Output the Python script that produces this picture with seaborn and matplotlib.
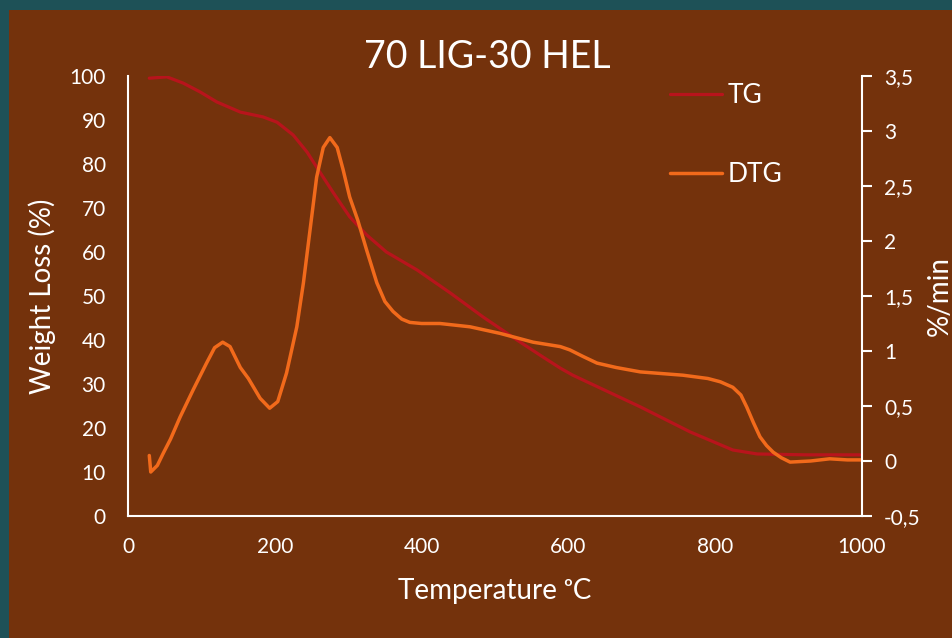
import matplotlib
matplotlib.use("Agg")
import matplotlib.pyplot as plt
import seaborn as sns
import pandas as pd
from matplotlib.patches import Rectangle
from matplotlib.lines import Line2D

# TG data (temperature °C, weight %)
tg_temp = [29, 53, 75, 98, 121, 153, 184, 203, 225, 244, 257, 271, 280, 302, 325, 352,
           394, 439, 484, 530, 561, 589, 606, 698, 766, 824, 857, 925, 997]
tg_weight = [99.5, 99.8, 98.4, 96.4, 94.1, 91.8, 90.7, 89.5, 86.6, 82.7, 79.3, 75.7, 73.4,
             68.0, 63.9, 60.0, 55.9, 50.7, 45.2, 40.0, 36.6, 33.6, 32.0, 24.8, 19.1, 15.0,
             14.1, 13.9, 13.9]

# DTG data (temperature °C, %/min)
dtg_temp = [29, 31, 40, 48, 58, 71, 89, 107, 118, 129, 139, 153, 164, 180, 193, 204, 216,
            230, 239, 248, 257, 266, 275, 285, 293, 302, 313, 325, 339, 350, 361, 373, 384,
            400, 425, 466, 507, 552, 589, 602, 620, 639, 665, 698, 756, 790, 807, 824, 835,
            843, 852, 861, 870, 879, 890, 902, 930, 956, 980, 999]
dtg_rate = [0.05, -0.1, -0.04, 0.07, 0.2, 0.40, 0.65, 0.89, 1.03, 1.08, 1.04, 0.85, 0.75,
            0.57, 0.48, 0.54, 0.80, 1.22, 1.62, 2.10, 2.58, 2.85, 2.94, 2.85, 2.65, 2.40,
            2.19, 1.92, 1.62, 1.45, 1.36, 1.29, 1.26, 1.25, 1.25, 1.22, 1.16, 1.08, 1.04,
            1.01, 0.95, 0.89, 0.85, 0.81, 0.78, 0.75, 0.72, 0.67, 0.60, 0.49, 0.35, 0.22,
            0.14, 0.08, 0.03, -0.01, 0.00, 0.02, 0.01, 0.01]

x_ticks = [0, 200, 400, 600, 800, 1000]
left_ticks = [0, 10, 20, 30, 40, 50, 60, 70, 80, 90, 100]
right_ticks = [-0.5, 0, 0.5, 1, 1.5, 2, 2.5, 3, 3.5]
right_labels = ["-0,5", "0", "0,5", "1", "1,5", "2", "2,5", "3", "3,5"]

BROWN = "#74320C"
TEAL = "#1E5157"
RED = "#B8141C"
ORANGE = "#F26A1B"
WHITE = "#FFFFFF"

sns.set_theme(style="white")
plt.rcParams["font.family"] = ["Lato", "DejaVu Sans"]

fig = plt.figure(figsize=(9.52, 6.38), dpi=100)
fig.patch.set_facecolor(TEAL)
fig.patches.append(Rectangle((9 / 952, 0), 1, (638 - 10) / 638, transform=fig.transFigure,
                             facecolor=BROWN, edgecolor="none", zorder=-10))

ax = fig.add_axes([128 / 952, (638 - 516) / 638, (862 - 128) / 952, (516 - 76) / 638])
ax.set_facecolor("none")
ax2 = ax.twinx()
ax2.set_facecolor("none")

tg_df = pd.DataFrame({"T": tg_temp, "W": tg_weight})
dtg_df = pd.DataFrame({"T": dtg_temp, "R": dtg_rate})

sns.lineplot(data=tg_df, x="T", y="W", ax=ax, color=RED, linewidth=2.3, legend=False,
             solid_joinstyle="round", solid_capstyle="round")
sns.lineplot(data=dtg_df, x="T", y="R", ax=ax2, color=ORANGE, linewidth=2.5, legend=False,
             solid_joinstyle="round", solid_capstyle="round")

ax.set_xlim(0, 1000)
ax.set_ylim(0, 100)
ax2.set_ylim(-0.5, 3.5)
ax.set_xticks(x_ticks)
ax.set_yticks(left_ticks)
ax2.set_yticks(right_ticks)
ax2.set_yticklabels(right_labels)

for a in (ax, ax2):
    for s in a.spines.values():
        s.set_visible(False)
ax.spines["left"].set_visible(True)
ax.spines["bottom"].set_visible(True)
ax2.spines["right"].set_visible(True)
for s in (ax.spines["left"], ax.spines["bottom"], ax2.spines["right"]):
    s.set_color(WHITE)
    s.set_linewidth(1.5)

ax.tick_params(axis="both", colors=WHITE, labelsize=15, length=0)
ax.tick_params(axis="x", pad=15)
ax.tick_params(axis="y", pad=16)
ax2.tick_params(axis="y", colors=WHITE, labelsize=15, length=7, width=1.5,
                direction="out", pad=9)

ax.set_xlabel("Temperature \u1d52C", color=WHITE, fontsize=20, labelpad=15)
ax.set_ylabel("Weight Loss (%)", color=WHITE, fontsize=20, labelpad=10)
ax2.set_ylabel("%/min", color=WHITE, fontsize=20, labelpad=4)
ax.grid(False)
ax2.grid(False)

fig.text(487 / 952, (638 - 57) / 638, "70 LIG-30 HEL", color=WHITE, fontsize=27,
         ha="center", va="center")

handles = [Line2D([], [], color=RED, linewidth=2.3), Line2D([], [], color=ORANGE, linewidth=2.5)]
ax.legend(handles, ["TG", "DTG"], loc="upper left", bbox_to_anchor=(0.738, 0.983),
          frameon=False, labelcolor=WHITE, fontsize=19, handlelength=2.0,
          handletextpad=0.2, labelspacing=2.03, borderpad=0, borderaxespad=0)

fig.savefig("out.png", dpi=100, facecolor=fig.get_facecolor())
